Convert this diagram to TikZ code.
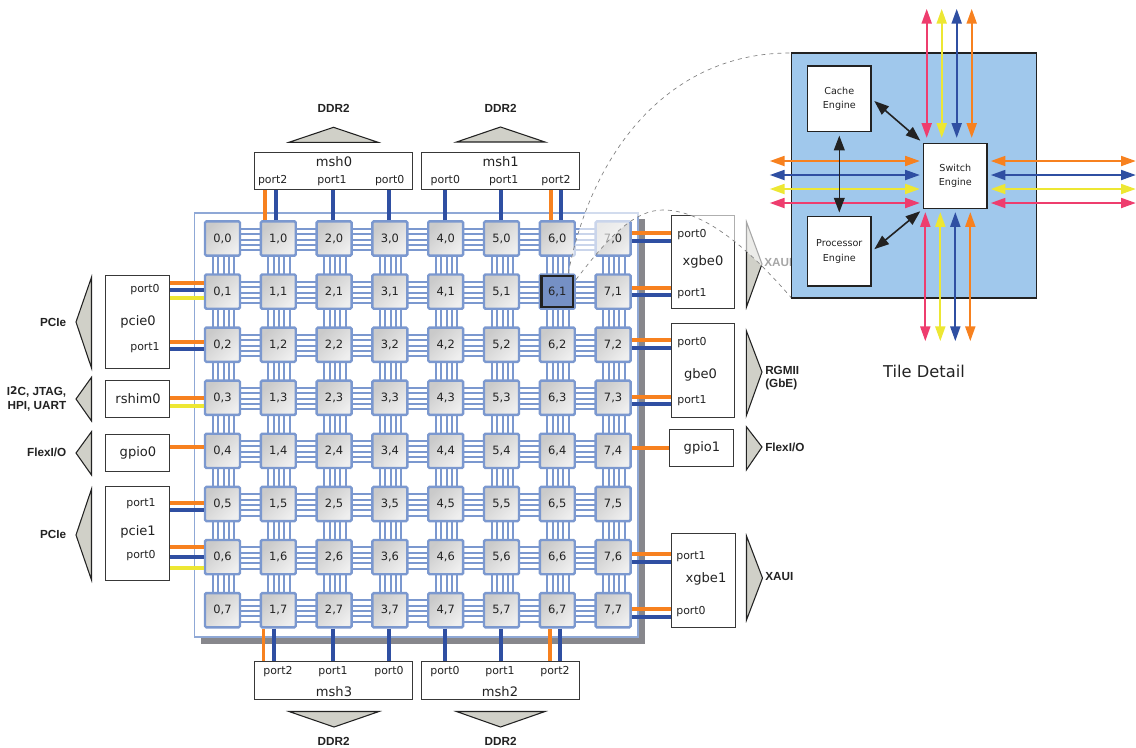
\documentclass[tikz,border=0pt]{standalone}
\usepackage{fontspec}
\setmainfont{DejaVu Sans}
\newfontfamily\busfont{Liberation Sans}
\usetikzlibrary{arrows.meta,backgrounds}
\definecolor{meshblue}{HTML}{7B98CF}
\definecolor{portorange}{HTML}{F7811F}
\definecolor{portblue}{HTML}{2F4FA2}
\definecolor{portyellow}{HTML}{EDE733}
\definecolor{portpink}{HTML}{EE3D6E}
\definecolor{tilegray}{HTML}{EFEFEF}
\definecolor{tiledark}{HTML}{CACACA}
\definecolor{trianglegray}{HTML}{D0D0C8}
\definecolor{shadowgray}{HTML}{87878C}
\definecolor{detailblue}{HTML}{A0C8EC}
\definecolor{inkblack}{HTML}{222222}
\tikzset{
	tile/.style={draw=meshblue,line width=1.8pt,rounded corners=1pt,minimum width=26.2pt,minimum height=25.7pt,
		inner sep=0pt,top color=tiledark,bottom color=tilegray,shading angle=45,font=\fontsize{8.6}{10}\selectfont,text=inkblack},
	t61/.style={top color=meshblue!95!black,bottom color=meshblue!95!black},
	meshlink/.style={draw=meshblue,line width=1.5pt},
	portbar/.style={line width=2.8pt},
	extbox/.style 2 args={draw=inkblack!90,line width=0.7pt,fill=white,minimum width=#1*0.75pt,minimum height=#2*0.75pt,inner sep=0pt},
	portlabel/.style={inner sep=0pt,font=\fontsize{8.2}{10}\selectfont,text=inkblack},
	boxlabel/.style={inner sep=0pt,font=\fontsize{9.8}{11}\selectfont,text=inkblack},
	buslabel/.style={inner sep=0pt,font=\busfont\bfseries\fontsize{8.8}{10.2}\selectfont,text=inkblack},
	bustriangle/.style={draw=inkblack,line width=0.8pt,fill=trianglegray,line join=miter},
	detailbox/.style={draw=inkblack,line width=1.2pt,fill=detailblue,minimum size=184pt,inner sep=0pt},
	engine/.style={draw=inkblack,line width=1.2pt,fill=white,minimum width=47.5pt,align=center,inner sep=0pt,
		font=\fontsize{7.2}{10.8}\selectfont,text=inkblack},
	tilearrow/.style={line width=1.3pt,{Triangle[length=11pt,width=7.5pt]}-{Triangle[length=11pt,width=7.5pt]}},
	enginearrow/.style={draw=inkblack,fill=inkblack,shorten <=2.5pt,shorten >=2.5pt,line width=1.2pt,{Triangle[length=11pt,width=8pt]}-{Triangle[length=11pt,width=8pt]}},
	zoomedge/.style={draw=gray,dashed,line width=0.5pt},
}
\begin{document}
\begin{tikzpicture}[x=0.75pt,y=-0.75pt]
	\useasboundingbox (0,0) rectangle (1136,747);
	% chip
	\foreach \i in {0,...,7}
		\foreach \j in {0,...,7}
			\node[tile,t\i\j/.try] (t\i\j) at (222.5+55.8*\i,238.5+53.1*\j) {\i,\j};
	\begin{scope}[on background layer]
		\fill[shadowgray] (201,219) rectangle (645,644);
		\draw[meshblue!85!white,line width=1.1pt,fill=white] (194.5,213) rectangle (638,637);
		\foreach \a/\b in {0/1,1/2,2/3,3/4,4/5,5/6,6/7}
			\foreach \k in {0,...,7}
				\foreach \o in {-10,-4.5,1,6,11.5} {
					\draw[meshlink] ([shift={(0,\o)}]t\a\k.center) -- ([shift={(0,\o)}]t\b\k.center);
					\draw[meshlink] ([shift={(\o,0)}]t\k\a.center) -- ([shift={(\o,0)}]t\k\b.center);
				}
	\end{scope}
	\draw[inkblack,line width=1.8pt] ([shift={(3,3)}]t61.north west) rectangle ([shift={(-3,-3)}]t61.south east);

	% outside boxes
	\node[extbox={158.5}{37.5}] (msh0) at (333.5,171) {};
	\node[extbox={158}{37.5}] (msh1) at (500.3,171) {};
	\node[extbox={158.5}{38}] (msh3) at (333.5,680) {};
	\node[extbox={158}{38}] (msh2) at (500.3,680) {};
	\node[extbox={64}{93.3}] (pcie0) at (137.3,322.3) {};
	\node[extbox={64}{37}] (rshim0) at (137.3,399.2) {};
	\node[extbox={64}{37}] (gpio0) at (137.3,453.2) {};
	\node[extbox={64}{94}] (pcie1) at (137.3,533) {};
	\node[extbox={63.5}{93}] (xgbe0) at (703,262.3) {};
	\node[extbox={63.5}{94}] (gbe0) at (703,370.3) {};
	\node[extbox={63.7}{37.3}] (gpio1) at (701.2,448.3) {};
	\node[extbox={64}{94}] (xgbe1) at (703,580) {};

	% port links
	\foreach \t/\b/\o/\c in {t10/msh0/-13/portorange,t10/msh0/-2.6/portblue,t20/msh0/-1/portblue,t30/msh0/-1/portblue,
		t40/msh1/-0.7/portblue,t50/msh1/-0.5/portblue,t60/msh1/-6.6/portorange,t60/msh1/3.7/portblue}
		\draw[portbar,draw=\c] ([shift={(\o,0)}]\t.north) -- ([shift={(\o,0)}]\t.north |- \b.south);
	\foreach \t/\b/\o/\c in {t17/msh3/-14.8/portorange,t17/msh3/-4.3/portblue,t27/msh3/-1/portblue,t37/msh3/-1/portblue,
		t47/msh2/-0.7/portblue,t57/msh2/-0.5/portblue,t67/msh2/-7.3/portorange,t67/msh2/2.7/portblue}
		\draw[portbar,draw=\c] ([shift={(\o,0)}]\t.south) -- ([shift={(\o,0)}]\t.south |- \b.north);
	\foreach \t/\b/\o/\c in {t01/pcie0/-8.6/portorange,t01/pcie0/-1.3/portblue,t01/pcie0/6.7/portyellow,
		t02/pcie0/-3/portorange,t02/pcie0/4.6/portblue,t03/rshim0/0.2/portorange,t03/rshim0/7.9/portyellow,
		t04/gpio0/-3.9/portorange,t05/pcie1/-1.3/portorange,t05/pcie1/6/portblue,
		t06/pcie1/-10/portorange,t06/pcie1/0.2/portblue,t06/pcie1/10.6/portyellow}
		\draw[portbar,draw=\c] ([shift={(0,\o)}]\t.west) -- ([shift={(0,\o)}]\t.west -| \b.east);
	\foreach \t/\b/\o/\c in {t70/xgbe0/-5.8/portorange,t70/xgbe0/2.2/portblue,t71/xgbe0/-3.9/portorange,t71/xgbe0/3.7/portblue,
		t72/gbe0/-4.4/portorange,t72/gbe0/3.3/portblue,t73/gbe0/-1.1/portorange,t73/gbe0/6.2/portblue,
		t74/gpio1/-2.6/portorange,t76/xgbe1/-3.1/portorange,t76/xgbe1/4.9/portblue,t77/xgbe1/-1.2/portorange,t77/xgbe1/6.8/portblue}
		\draw[portbar,draw=\c] ([shift={(0,\o)}]\t.east) -- ([shift={(0,\o)}]\t.east -| \b.west);

	% box texts
	\foreach \n/\x/\y/\t in {msh0p2/272.7/181/port2,msh0p1/332/181/port1,msh0p0/389.7/181/port0,
		msh1p0/445.3/181/port0,msh1p1/503.7/181/port1,msh1p2/556/181/port2,
		msh3p2/278/672/port2,msh3p1/333/672/port1,msh3p0/389/672/port0,
		msh2p0/445/672/port0,msh2p1/500/672/port1,msh2p2/555/672/port2,
		pcie0p0/145/290/port0,pcie0p1/145/348/port1,pcie1p1/141/504/port1,pcie1p0/141/556/port0,
		xgbe0p0/692/234.5/port0,xgbe0p1/692/293.5/port1,gbe0p0/692/343/port0,gbe0p1/692/400.5/port1,
		xgbe1p1/691/557/port1,xgbe1p0/691/612/port0}
		\node[portlabel] (\n) at (\x,\y) {\t};
	\foreach \n/\x/\y/\t in {msh0t/334/161.7/msh0,msh1t/500.7/161.7/msh1,msh3t/334/692/msh3,msh2t/500/692/msh2,
		pcie0t/138/322/pcie0,rshim0t/138/398.7/rshim0,gpio0t/138/452.7/gpio0,pcie1t/138/532/pcie1,
		xgbe0t/703/262/xgbe0,gbe0t/700.5/374.5/gbe0,gpio1t/702/447.7/gpio1,xgbe1t/706/579/xgbe1}
		\node[boxlabel] (\n) at (\x,\y) {\t};

	% bus triangles
	\draw[bustriangle] (333.5,127.3) -- (378,142.3) -- (289,142.3) -- cycle;
	\draw[bustriangle] (500.5,127) -- (545,142) -- (456.5,142) -- cycle;
	\draw[bustriangle] (334,727) -- (379,711.5) -- (289,711.5) -- cycle;
	\draw[bustriangle] (500.5,727) -- (545,711.5) -- (456.5,711.5) -- cycle;
	\draw[bustriangle] (76,322) -- (91.5,277.3) -- (91.5,368) -- cycle;
	\draw[bustriangle] (76,399) -- (91.5,377.3) -- (91.5,421) -- cycle;
	\draw[bustriangle] (76,453) -- (91.5,431.7) -- (91.5,475) -- cycle;
	\draw[bustriangle] (76,535) -- (91.5,489) -- (91.5,580) -- cycle;
	\draw[bustriangle] (762,264) -- (746.5,222) -- (746.5,307) -- cycle;
	\draw[bustriangle] (762,372) -- (746.3,330.7) -- (746.3,415.7) -- cycle;
	\draw[bustriangle] (762,447) -- (746.3,426.7) -- (746.3,470) -- cycle;
	\draw[bustriangle] (762.5,578) -- (746.5,536) -- (746.5,620) -- cycle;
	\node[buslabel] (ddr0) at (333.7,108.5) {DDR2};
	\node[buslabel] (ddr1) at (500.7,108.5) {DDR2};
	\node[buslabel] (ddr3) at (333.7,741) {DDR2};
	\node[buslabel] (ddr2) at (500.7,741.5) {DDR2};
	\node[buslabel,anchor=east] (pcie0bus) at (66.5,322) {PCIe};
	\node[buslabel,anchor=east,align=right] (rshim0bus) at (66.5,399) {I\raisebox{1pt}{\fontspec{DejaVu Sans}\fontsize{8}{9}\selectfont 2}C, JTAG,\\HPI, UART};
	\node[buslabel,anchor=east] (gpio0bus) at (66.5,452) {FlexI/O};
	\node[buslabel,anchor=east] (pcie1bus) at (66.5,534) {PCIe};
	\node[buslabel,anchor=west] (xgbe0bus) at (764,263) {XAUI};
	\node[buslabel,anchor=west,align=left] (gbe0bus) at (765,378) {RGMII\\(GbE)};
	\node[buslabel,anchor=west] (gpio1bus) at (765,447) {FlexI/O};
	\node[buslabel,anchor=west] (xgbe1bus) at (765,577) {XAUI};

	% tile detail
	\coordinate (detailnw) at (791.5,53);
	\coordinate (detailsw) at (791.5,298);
	\coordinate (zoomtop) at ([shift={(11,0)}]t61.north);
	\coordinate (zoomlow) at ([shift={(0,-12)}]t61.east);
	\fill[white,opacity=0.6] (zoomtop) .. controls (592,150) and (670,52) .. (detailnw)
		-- (detailsw) .. controls (750,250) and (705,210) .. (663,210) .. controls (635,210) and (610,235) .. (zoomlow) -- (t61.north east) -- cycle;
	\draw[zoomedge] (zoomtop) .. controls (592,150) and (670,52) .. (detailnw);
	\draw[zoomedge] (zoomlow) .. controls (610,235) and (635,210) .. (663,210) .. controls (705,210) and (750,250) .. (detailsw);
	\node[detailbox] (detail) at (914,175.5) {};
	\node[engine,minimum height=49pt] (cache) at (839.3,98.8) {Cache\\Engine};
	\node[engine,minimum height=52pt] (processor) at (839.3,251.3) {Processor\\Engine};
	\node[engine,minimum height=48.5pt] (switch) at (955.3,176) {Switch\\Engine};
	\foreach \o/\c in {-28.6/portpink,-13.6/portyellow,1.4/portblue,16.4/portorange}
		\draw[tilearrow,draw=\c,fill=\c] ([shift={(\o,-5)}]switch.north) -- ([shift={(\o,-134)}]switch.north);
	\foreach \o/\c in {-30/portpink,-15/portyellow,0/portblue,15/portorange}
		\draw[tilearrow,draw=\c,fill=\c] ([shift={(\o,3)}]switch.south) -- ([shift={(\o,132)}]switch.south);
	\foreach \o/\c in {-15/portorange,-1/portblue,13/portyellow,27/portpink}
		\draw[tilearrow,draw=\c,fill=\c] ([shift={(-3,\o)}]switch.west) -- ([shift={(-153,\o)}]switch.west);
	\foreach \o/\c in {-15/portorange,-1/portblue,13/portyellow,27/portpink}
		\draw[tilearrow,draw=\c,fill=\c] ([shift={(3,\o)}]switch.east) -- ([shift={(148,\o)}]switch.east);
	\draw[enginearrow] (cache.south) -- (processor.north);
	\draw[enginearrow] (cache.east) -- (switch.north west);
	\draw[enginearrow] (processor.east) -- (switch.south west);
	\node[inner sep=0pt,font=\fontsize{12.2}{14}\selectfont,text=inkblack] (detailtitle) at (924,371) {Tile Detail};
\end{tikzpicture}
\end{document}
